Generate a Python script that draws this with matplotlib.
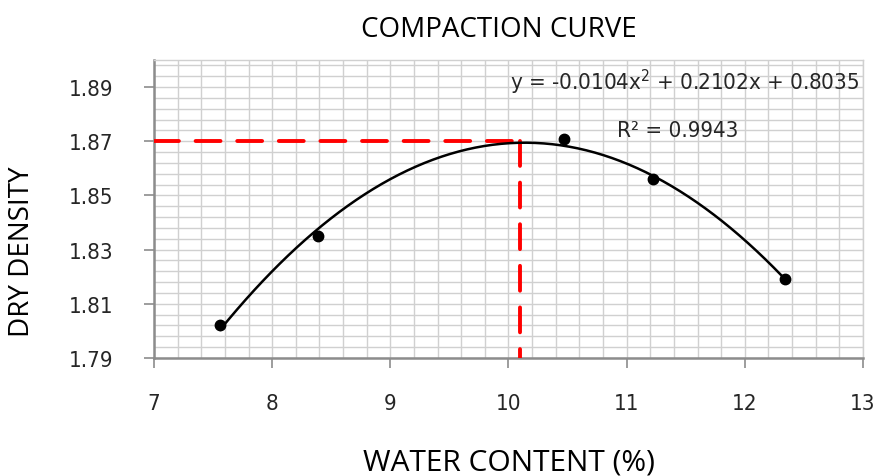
import matplotlib
matplotlib.use("Agg")
import matplotlib.pyplot as plt
import numpy as np

# compaction test results
water_content = [7.56, 8.39, 10.47, 11.22, 12.34]
dry_density = [1.802, 1.835, 1.871, 1.856, 1.819]

# optimum moisture content / max dry density
omc = 10.1
mdd = 1.87

x_ticks = [7, 8, 9, 10, 11, 12, 13]
y_ticks = [1.79, 1.81, 1.83, 1.85, 1.87, 1.89]

eq_text = "y = -0.0104x$^{2}$ + 0.2102x + 0.8035"
r2_text = "R² = 0.9943"

plt.rcParams['font.family'] = ['DejaVu Sans']
plt.rcParams['font.stretch'] = 'condensed'
plt.rcParams['mathtext.default'] = 'regular'
plt.rcParams['text.color'] = '#262626'

fig = plt.figure(figsize=(8.77, 4.77), dpi=100)
ax = fig.add_axes([0.1756, 0.2474, 0.984 - 0.1756, 0.872 - 0.2474])

# 2nd order polynomial trendline through the points
coef = np.polyfit(water_content, dry_density, 2)
xs = np.linspace(min(water_content), max(water_content), 200)
ax.plot(xs, np.polyval(coef, xs), color='black', lw=1.8, zorder=4)
ax.plot(water_content, dry_density, 'o', color='black', ms=7.5, zorder=5)

# dashed guide lines to the axes
ax.plot([7, omc], [mdd, mdd], color='red', lw=2.8, dashes=(6.4, 4.3),
        dash_capstyle='round', zorder=3)
ax.plot([omc, omc], [mdd, 1.79], color='red', lw=2.8, dashes=(6.4, 4.3),
        dash_capstyle='round', zorder=3)

ax.set_xlim(7, 13)
ax.set_ylim(1.79, 1.90)
ax.set_xticks(x_ticks)
ax.set_yticks(y_ticks)
ax.set_xticks(np.arange(7, 13.001, 0.2), minor=True)
ax.set_yticks(np.arange(1.79, 1.9001, 0.004), minor=True)
ax.grid(True, which='both', color='#d0d0d0', lw=1.0, zorder=0)
ax.set_axisbelow(True)
ax.tick_params(which='minor', length=0)
ax.tick_params(which='major', direction='out', length=7, width=1.2,
               color='#8c8c8c', labelsize=16, pad=22, labelcolor='#262626')
ax.tick_params(axis='x', which='major', pad=18)

for side in ['top', 'right']:
    ax.spines[side].set_color('#d0d0d0')
    ax.spines[side].set_linewidth(1.0)
for side in ['left', 'bottom']:
    ax.spines[side].set_color('#8c8c8c')
    ax.spines[side].set_linewidth(1.8)

ax.text(12.97, 1.8922, eq_text, ha='right', va='center', fontsize=16)
ax.text(11.43, 1.8741, r2_text, ha='center', va='center', fontsize=16)

fig.text(0.569, 0.937, "COMPACTION CURVE", ha='center', va='center',
         fontsize=20, family='Open Sans', stretch='normal', color='black')
fig.text(0.58, 0.03, "WATER CONTENT (%)", ha='center', va='center',
         fontsize=21.5, family='Open Sans', stretch='normal', color='black')
fig.text(0.025, 0.472, "DRY DENSITY", ha='center', va='center',
         rotation=90, fontsize=20, family='Open Sans', stretch='normal',
         color='black')

fig.savefig("out.png", dpi=100)
